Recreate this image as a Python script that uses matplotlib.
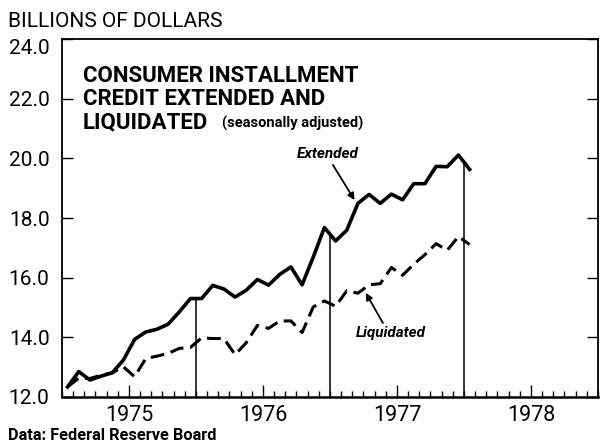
import numpy as np
import pandas as pd
import matplotlib
matplotlib.use("Agg")
import matplotlib.pyplot as plt
from matplotlib.patches import FancyArrowPatch
from matplotlib.transforms import ScaledTranslation

plt.rcParams['font.family'] = ['Roboto', 'DejaVu Sans']

# monthly, seasonally adjusted, billions of dollars (Jan 1975 - Jan 1978)
months = pd.date_range('1975-01-01', periods=37, freq='MS')
extended = [12.34, 12.85, 12.57, 12.70, 12.81, 13.24, 13.93, 14.18, 14.27, 14.44,
            14.85, 15.30, 15.30, 15.74, 15.62, 15.35, 15.58, 15.94, 15.75, 16.11,
            16.36, 15.76, 16.69, 17.68, 17.23, 17.59, 18.49, 18.79, 18.49, 18.80,
            18.61, 19.15, 19.15, 19.73, 19.72, 20.11, 19.63]
liquidated = [12.34, 12.63, 12.62, 12.73, 12.81, 13.01, 12.68, 13.29, 13.37, 13.46,
              13.63, 13.66, 13.98, 13.96, 13.96, 13.42, 13.82, 14.40, 14.30, 14.55,
              14.55, 14.16, 15.02, 15.22, 15.04, 15.56, 15.48, 15.76, 15.80, 16.34,
              16.08, 16.45, 16.77, 17.14, 16.92, 17.38, 17.11]
year_labels = ['1975', '1976', '1977', '1978']
y_values = [12.0, 14.0, 16.0, 18.0, 20.0, 22.0, 24.0]

x = months.year + (months.month - 0.5) / 12

fig = plt.figure(figsize=(6.01, 4.42), dpi=100)
ax = fig.add_axes([62 / 601, 1 - 397 / 442, (598 - 62) / 601, (397 - 39) / 442])

ax.plot(x, extended, color='black', lw=2.6)
ax.plot(x, liquidated, color='black', lw=2.2, dashes=(4.5, 2.2))

# year markers up to the Extended line
for yr in [1976, 1977, 1978]:
    ax.vlines(yr, 12, np.interp(yr, x, extended), color='black', lw=1.1)

ax.set_xlim(1975, 1979)
ax.set_ylim(12, 24)

ax.set_yticks(y_values)
ax.set_yticklabels([f'{v:.1f}' for v in y_values])
ax.tick_params(axis='y', direction='in', length=8, width=1.0, right=True,
               labelsize=15, pad=9)
# top label sits a little below the frame
top_lab = ax.get_yticklabels()[-1]
top_lab.set_transform(top_lab.get_transform() +
                      ScaledTranslation(0, -7 / 100, fig.dpi_scale_trans))

ax.set_xticks([1975.5, 1976.5, 1977.5, 1978.5])
ax.set_xticklabels(year_labels)
ax.set_xticks(np.arange(1975, 1979.001, 1 / 12), minor=True)
ax.tick_params(axis='x', which='major', direction='in', length=9, width=1.0,
               labelsize=15.5, pad=6)
ax.tick_params(axis='x', which='minor', direction='in', length=4.5, width=1.0)

for s in ax.spines.values():
    s.set_linewidth(1.3)
ax.spines['bottom'].set_linewidth(1.8)

fig.text(8 / 601, 1 - 27 / 442, 'BILLIONS OF DOLLARS', fontsize=15, va='baseline')

for i, line in enumerate(['CONSUMER INSTALLMENT', 'CREDIT EXTENDED AND', 'LIQUIDATED']):
    fig.text(83 / 601, 1 - (82 + i * 23) / 442, line, fontsize=16,
             fontweight='bold', va='baseline')
fig.text(222 / 601, 1 - 128 / 442, '(seasonally adjusted)', fontsize=10.5,
         fontweight='bold', va='baseline')

# series labels with pointer arrows
ax.text(1976 + 11.8 / 12, 20.15, 'Extended', fontsize=11, fontweight='bold',
        fontstyle='italic', ha='center', va='center')
ax.add_patch(FancyArrowPatch((1977 + 0.26 / 12, 19.78), (1977 + 2.2 / 12, 18.6),
                             arrowstyle='-|>', mutation_scale=10, color='black',
                             lw=1.3, shrinkA=0, shrinkB=0))
ax.text(1977 + 5.45 / 12, 14.15, 'Liquidated', fontsize=11, fontweight='bold',
        fontstyle='italic', ha='center', va='center')
ax.add_patch(FancyArrowPatch((1977 + 4.74 / 12, 14.48), (1977 + 3.2 / 12, 15.49),
                             arrowstyle='-|>', mutation_scale=10, color='black',
                             lw=1.3, shrinkA=0, shrinkB=0))

fig.text(8 / 601, 1 - 440 / 442, 'Data: Federal Reserve Board', fontsize=11.8,
         fontweight='bold', va='baseline')

fig.savefig('out.png', dpi=100)
